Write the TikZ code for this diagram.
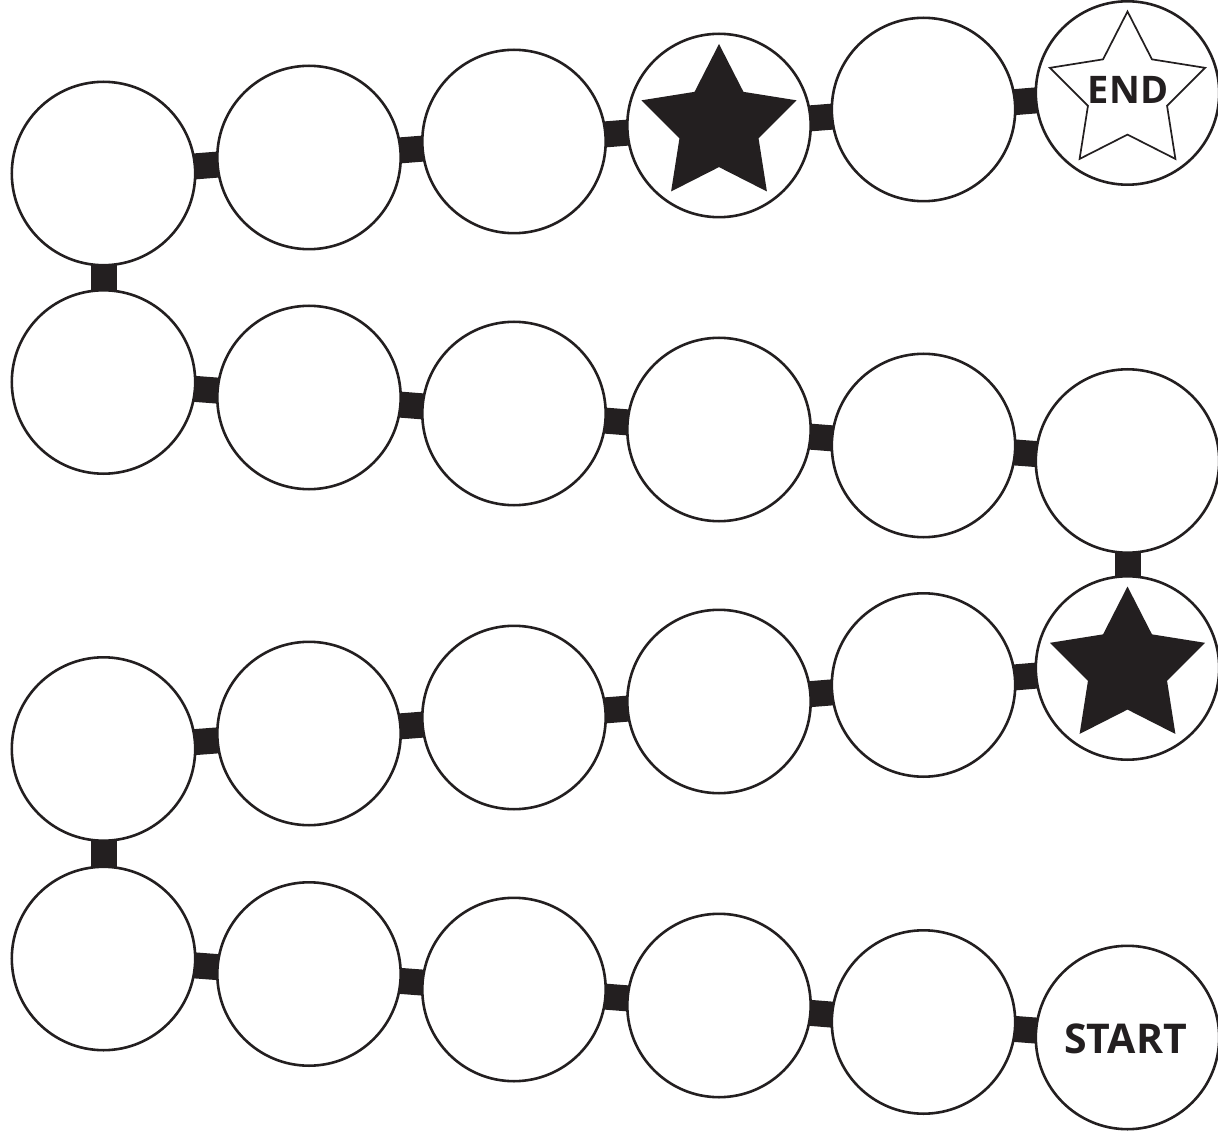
\documentclass[tikz,border=0pt]{standalone}
\usepackage{fontspec}
\setmainfont{Open Sans}
\usetikzlibrary{shapes.geometric,backgrounds}
\definecolor{ink}{RGB}{35,31,32}
\begin{document}
\begin{tikzpicture}[x=1pt,y=-1pt,
  spot/.style={circle,draw=ink,line width=2.6pt,fill=white,minimum size=183.4pt,inner sep=0pt},
  joint/.style={draw=ink,line width=26pt},
  bigstar/.style={star,star points=5,star point ratio=1.96,minimum size=163pt,inner sep=0pt,fill=ink},
  endstar/.style={star,star points=5,star point ratio=1.96,minimum size=163pt,inner sep=0pt,draw=ink,line width=1.7pt,fill=white},
  word/.style={font=\bfseries\fontsize{38}{38}\selectfont,text=ink,inner sep=0pt}]
\useasboundingbox (0,0) rectangle (1218,1139);
% row 1
\node[spot] (a1) at (103.5,173.5) {};
\node[spot] (a2) at (309,157.5) {};
\node[spot] (a3) at (514,141.5) {};
\node[spot] (a4) at (719,125.5) {};
\node[spot] (a5) at (923.5,109.5) {};
\node[spot] (a6) at (1127.5,93) {};
% row 2
\node[spot] (b1) at (103.5,382) {};
\node[spot] (b2) at (309,397.5) {};
\node[spot] (b3) at (514,413.5) {};
\node[spot] (b4) at (719,429.5) {};
\node[spot] (b5) at (923.5,445.5) {};
\node[spot] (b6) at (1127.5,461) {};
% row 3
\node[spot] (c1) at (103.5,749) {};
\node[spot] (c2) at (309,733.5) {};
\node[spot] (c3) at (514,717.5) {};
\node[spot] (c4) at (719,701.5) {};
\node[spot] (c5) at (923.5,685) {};
\node[spot] (c6) at (1127.5,668) {};
% row 4
\node[spot] (d1) at (103.5,958.5) {};
\node[spot] (d2) at (309,974) {};
\node[spot] (d3) at (514,989.5) {};
\node[spot] (d4) at (719,1005.5) {};
\node[spot] (d5) at (923.5,1022) {};
\node[spot] (d6) at (1127.5,1037.5) {};
% stars and texts
\node[bigstar] (s1) at (a4) {};
\node[bigstar] (s2) at (c6) {};
\node[endstar] (s3) at (a6) {};
\node[word] (endtext) at (1128,90) {END};
\node[word,font=\bfseries\fontsize{41}{41}\selectfont] (starttext) at (1125.5,1039) {START};
% connectors
\begin{pgfonlayer}{background}
\draw[joint] (a1.center) -- (a2.center);
\draw[joint] (a2.center) -- (a3.center);
\draw[joint] (a3.center) -- (a4.center);
\draw[joint] (a4.center) -- (a5.center);
\draw[joint] (a5.center) -- (a6.center);
\draw[joint] (a1.center) -- (b1.center);
\draw[joint] (b1.center) -- (b2.center);
\draw[joint] (b2.center) -- (b3.center);
\draw[joint] (b3.center) -- (b4.center);
\draw[joint] (b4.center) -- (b5.center);
\draw[joint] (b5.center) -- (b6.center);
\draw[joint] (b6.center) -- (c6.center);
\draw[joint] (c1.center) -- (c2.center);
\draw[joint] (c2.center) -- (c3.center);
\draw[joint] (c3.center) -- (c4.center);
\draw[joint] (c4.center) -- (c5.center);
\draw[joint] (c5.center) -- (c6.center);
\draw[joint] (c1.center) -- (d1.center);
\draw[joint] (d1.center) -- (d2.center);
\draw[joint] (d2.center) -- (d3.center);
\draw[joint] (d3.center) -- (d4.center);
\draw[joint] (d4.center) -- (d5.center);
\draw[joint] (d5.center) -- (d6.center);
\end{pgfonlayer}
\end{tikzpicture}
\end{document}
